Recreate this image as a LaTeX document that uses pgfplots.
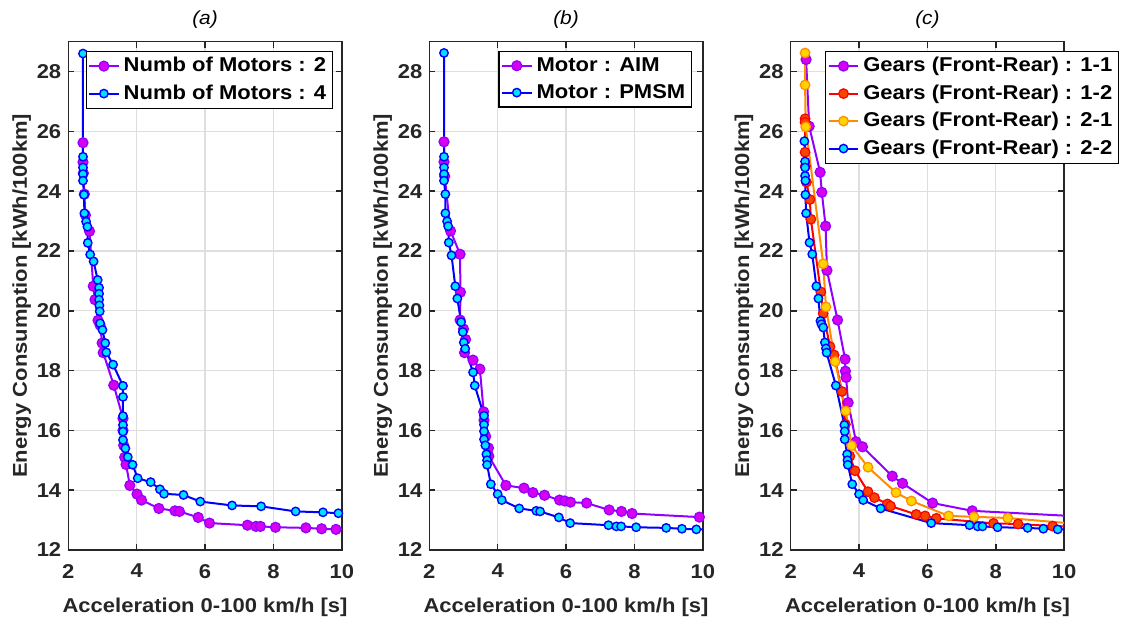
\documentclass[border=0pt]{standalone}
\usepackage{pgfplots}
\pgfplotsset{compat=1.18}
\usepackage{fontspec}
\setmainfont[FakeStretch=1.1]{Liberation Sans}
\definecolor{pline}{RGB}{145,0,255}
\definecolor{pfill}{RGB}{215,0,240}
\definecolor{bline}{RGB}{0,0,255}
\definecolor{bfill}{RGB}{0,225,255}
\definecolor{rline}{RGB}{255,0,0}
\definecolor{rfill}{RGB}{245,70,0}
\definecolor{oline}{RGB}{255,140,0}
\definecolor{ofill}{RGB}{255,210,0}
\definecolor{axgray}{RGB}{38,38,38}
\pgfplotsset{
  myaxis/.style={
    scale only axis, width=136.75pt, height=254.2pt,
    xmin=2, xmax=10, ymin=12, ymax=29,
    xtick={2,4,6,8,10}, ytick={12,14,...,28},
    grid=major, major grid style={color=black!13, line width=0.6pt},
    axis line style={color=axgray, line width=0.75pt},
    every tick/.style={color=axgray, line width=0.75pt},
    major tick length=3pt, tick align=inside,
    /pgf/number format/assume math mode=true,
    tick label style={font=\fontsize{10}{12}\selectfont\bfseries, color=axgray},
    xticklabel style={yshift=-3.5pt},
    label style={font=\fontsize{10}{12}\selectfont\bfseries, color=axgray},
    xlabel={Acceleration 0-100 km/h [s]},
    ylabel={Energy Consumption [kWh/100km]},
    xlabel style={yshift=-3pt},
    ylabel style={yshift=-4pt},
    title style={font=\fontsize{9.5}{11}\selectfont\itshape, color=black, yshift=-3pt},
    legend style={font=\fontsize{10}{12}\selectfont\bfseries, draw=black, line width=0.6pt, fill=white,
      inner sep=1pt, row sep=1pt, legend cell align=left},
    legend image code/.code={\draw[mark repeat=2,mark phase=2] plot coordinates {(0cm,0cm)(0.26cm,0cm)(0.52cm,0cm)};},
  },
  ps/.style={color=pline, line width=1pt, mark=*, mark size=2.5pt, mark options={fill=pfill, draw=pline, line width=0.6pt}},
  bs/.style={color=bline, line width=1pt, mark=*, mark size=2.1pt, mark options={fill=bfill, draw=bline, line width=0.7pt}},
  rs/.style={color=rline, line width=1pt, mark=*, mark size=2.4pt, mark options={fill=rfill, draw=rline, line width=0.6pt}},
  os/.style={color=oline, line width=1pt, mark=*, mark size=2.4pt, mark options={fill=ofill, draw=oline, line width=0.6pt}},
}
\begin{document}
\begin{tikzpicture}
\useasboundingbox (0,0) rectangle (563.5pt,308.5pt);
% ---------------- (a)
\begin{axis}[myaxis, at={(34.15pt,33.5pt)}, anchor=south west, title={(a)},
  legend style={at={(0.967,0.982)}, anchor=north east}]
\addplot[ps] coordinates {
(2.43,25.62)(2.43,24.97)(2.44,24.6)(2.47,23.9)(2.5,23.2)(2.62,22.66)(2.73,20.82)(2.78,20.37)
(2.87,19.68)(2.93,19.52)(2.99,18.92)(3.02,18.6)(3.33,17.51)(3.6,16.4)(3.6,16.0)(3.62,15.5)
(3.65,15.1)(3.69,14.86)(3.80,14.16)(4.01,13.87)(4.14,13.67)(4.65,13.39)(5.12,13.31)(5.25,13.29)
(5.80,13.09)(6.13,12.9)(7.24,12.83)(7.49,12.79)(7.62,12.79)(8.06,12.76)(8.95,12.74)(9.41,12.71)
(9.83,12.69)(10.4,12.68)};
\addlegendentry{Numb of Motors : 2}
\addplot[bs] coordinates {
(2.43,28.6)(2.43,25.15)(2.43,24.79)(2.43,24.57)(2.43,24.35)(2.46,23.88)(2.47,23.26)(2.52,22.98)
(2.56,22.81)(2.57,22.27)(2.64,21.88)(2.74,21.65)(2.86,21.03)(2.9,20.77)(2.9,20.57)(2.9,20.37)
(2.91,20.18)(2.92,19.98)(2.93,19.58)(3.0,19.36)(3.08,18.92)(3.11,18.61)(3.31,18.2)(3.6,17.49)
(3.6,17.12)(3.6,16.48)(3.6,16.18)(3.6,15.96)(3.6,15.68)(3.67,15.40)(3.74,15.11)(3.88,14.85)
(4.03,14.40)(4.41,14.27)(4.68,14.03)(4.80,13.88)(5.37,13.84)(5.86,13.62)(6.79,13.49)(7.64,13.46)
(8.65,13.29)(9.45,13.26)(9.90,13.23)(10.4,13.2)};
\addlegendentry{Numb of Motors : 4}
\end{axis}
% ---------------- (b)
\begin{axis}[myaxis, at={(214.65pt,33.5pt)}, anchor=south west, title={(b)},
  legend style={at={(0.96,0.982)}, anchor=north east}]
\addplot[ps] coordinates {
(2.43,25.65)(2.43,24.98)(2.45,24.5)(2.62,22.67)(2.9,21.89)(2.91,20.62)(2.9,19.69)(3.0,19.39)
(3.06,19.04)(3.03,18.6)(3.28,18.35)(3.48,18.05)(3.59,16.62)(3.6,16.34)(3.65,15.8)(3.73,15.41)
(3.74,15.14)(4.24,14.16)(4.77,14.07)(5.03,13.92)(5.37,13.83)(5.81,13.67)(5.96,13.64)(6.13,13.6)
(6.6,13.57)(7.26,13.34)(7.62,13.29)(7.93,13.22)(9.9,13.1)(10.4,13.08)};
\addlegendentry{Motor : AIM}
\addplot[bs] coordinates {
(2.43,28.62)(2.43,25.15)(2.43,24.79)(2.43,24.57)(2.43,24.35)(2.47,23.9)(2.47,23.26)(2.52,22.99)
(2.55,22.83)(2.57,22.28)(2.65,21.85)(2.76,20.82)(2.82,20.41)(2.93,19.62)(2.98,19.29)(3.01,18.94)
(3.05,18.73)(3.28,17.94)(3.33,17.5)(3.6,16.49)(3.6,16.19)(3.6,15.97)(3.6,15.7)(3.64,15.5)
(3.67,15.2)(3.69,15.0)(3.69,14.85)(3.80,14.2)(4.0,13.87)(4.12,13.67)(4.63,13.39)(5.13,13.31)
(5.24,13.29)(5.79,13.09)(6.12,12.9)(7.24,12.83)(7.47,12.79)(7.61,12.79)(8.05,12.76)(8.93,12.74)
(9.39,12.71)(9.81,12.69)(10.4,12.68)};
\addlegendentry{Motor : PMSM}
\end{axis}
% ---------------- (c)
\begin{axis}[myaxis, at={(395.35pt,33.5pt)}, anchor=south west, title={(c)},
  legend style={at={(1.2,0.982)}, anchor=north east}]
\addplot[ps] coordinates {
(2.45,28.4)(2.54,26.17)(2.86,24.63)(2.91,23.96)(3.02,22.83)(3.06,21.35)(3.37,19.69)(3.59,18.38)
(3.6,17.98)(3.62,17.77)(3.68,16.93)(3.91,15.62)(4.1,15.45)(4.97,14.47)(5.27,14.23)(6.15,13.57)
(7.31,13.31)(10.5,13.12)};
\addlegendentry{Gears (Front-Rear) : 1-1}
\addplot[rs] coordinates {
(2.42,26.42)(2.42,26.3)(2.42,25.3)(2.43,24.84)(2.46,24.3)(2.56,23.72)(2.59,23.06)(2.88,20.63)
(2.95,19.91)(3.15,18.8)(3.27,18.52)(3.5,17.3)(3.6,16.2)(3.73,15.14)(3.88,14.65)(4.26,13.95)
(4.45,13.75)(4.83,13.54)(4.92,13.47)(5.67,13.19)(5.93,13.14)(6.26,13.06)(7.93,12.89)(8.65,12.87)
(9.66,12.8)(10.5,12.78)};
\addlegendentry{Gears (Front-Rear) : 1-2}
\addplot[os] coordinates {
(2.42,28.62)(2.42,27.55)(2.44,26.15)(2.95,21.57)(3.03,20.13)(3.3,18.3)(3.61,16.65)(3.78,15.49)
(4.26,14.77)(5.08,13.92)(5.53,13.64)(6.62,13.14)(7.36,13.11)(8.35,13.07)(10.5,12.86)};
\addlegendentry{Gears (Front-Rear) : 2-1}
\addplot[bs] coordinates {
(2.4,25.67)(2.42,24.99)(2.42,24.79)(2.42,24.51)(2.43,24.35)(2.43,23.88)(2.45,23.26)(2.55,22.28)
(2.63,21.89)(2.75,20.82)(2.81,20.41)(2.87,19.66)(2.9,19.55)(2.95,19.44)(3.0,18.94)(3.03,18.74)
(3.05,18.6)(3.32,17.5)(3.57,16.18)(3.58,15.97)(3.58,15.7)(3.65,15.2)(3.66,15.0)(3.67,14.85)
(3.8,14.2)(4.0,13.87)(4.12,13.67)(4.63,13.39)(6.11,12.9)(7.23,12.83)(7.47,12.79)(7.61,12.79)
(8.05,12.76)(8.93,12.74)(9.39,12.71)(9.81,12.69)(10.4,12.68)};
\addlegendentry{Gears (Front-Rear) : 2-2}
\end{axis}
\end{tikzpicture}
\end{document}
